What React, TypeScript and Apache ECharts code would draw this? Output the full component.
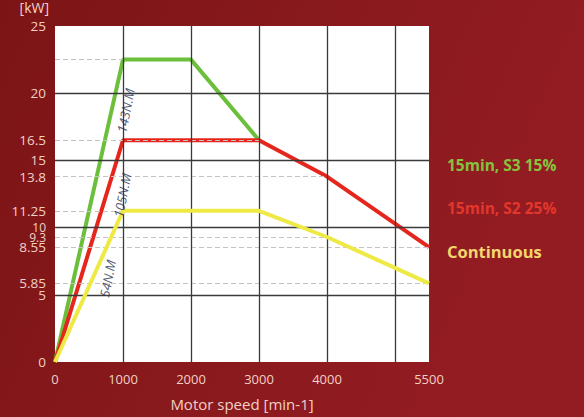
import React, { useEffect, useRef } from "react";
import * as echarts from "echarts";

const xTicks = [0, 1000, 2000, 3000, 4000, 5500];
const yTicks = [0, 5, 5.85, 8.55, 9.3, 10, 11.25, 13.8, 15, 16.5, 20, 25];
const majorX = [1000, 2000, 3000, 4000, 5000];
const majorY = [5, 10, 15, 20];
// [power, speed up to which the reference line runs]
const refLines = [
  [22.5, 1000],
  [16.5, 3000],
  [13.8, 4000],
  [11.25, 3000],
  [9.3, 4000],
  [8.55, 5500],
  [5.85, 5500],
];

const s3Speed = [0, 1000, 2000, 3000];
const s3Power = [0, 22.5, 22.5, 16.5];
const s2Speed = [0, 1000, 3000, 4000, 5500];
const s2Power = [0, 16.5, 16.5, 13.8, 8.55];
const contSpeed = [0, 1000, 3000, 4000, 5500];
const contPower = [0, 11.25, 11.25, 9.3, 5.85];

const seriesNames = ["15min, S3 15%", "15min, S2 25%", "Continuous"];
const torqueLabels = ["143N.M", "105N.M", "54N.M"];
const torqueAt = [
  [1040, 18.7],
  [990, 12.4],
  [775, 6.2],
];

const XMAX = 5500;
const YMAX = 25;

export default function App() {
  const ref = useRef<HTMLDivElement>(null);
  useEffect(() => {
    if (!ref.current) return;
    const chart = echarts.init(ref.current, undefined, { renderer: "svg" });
    const font = "Open Sans";
    const labelColor = "#f2d0c6";
    const zip = (xs: number[], ys: number[]) => xs.map((x, i) => [x, ys[i]]);

    const gridLines: any[] = [];
    majorX.forEach((x) =>
      gridLines.push([
        { coord: [x, 0], lineStyle: { color: "#3a3a3a", width: 1.3, type: "solid" } },
        { coord: [x, YMAX] },
      ])
    );
    majorY.forEach((y) =>
      gridLines.push([
        { coord: [0, y], lineStyle: { color: "#3a3a3a", width: 1.3, type: "solid" } },
        { coord: [XMAX, y] },
      ])
    );
    const refMarks = refLines.map(([y, x]) => [
      { coord: [0, y], lineStyle: { color: "#c4c4c4", width: 1, type: [5, 3] } },
      { coord: [x, y] },
    ]);

    chart.setOption({
      animation: false,
      backgroundColor: {
        type: "linear",
        x: 0,
        y: 0,
        x2: 1,
        y2: 0.3,
        colorStops: [
          { offset: 0, color: "#7c1416" },
          { offset: 0.5, color: "#88191c" },
          { offset: 1, color: "#931c22" },
        ],
      },
      textStyle: { fontFamily: font },
      grid: {
        left: 55,
        right: 155,
        top: 24,
        bottom: 55,
        show: true,
        backgroundColor: "#ffffff",
        borderWidth: 0,
      },
      legend: {
        orient: "vertical",
        left: 437,
        top: 152,
        icon: "none",
        itemWidth: 0,
        itemHeight: 16,
        itemGap: 27,
        selectedMode: false,
        data: [
          { name: seriesNames[0], textStyle: { color: "#86c23e", fontSize: 15.5, fontWeight: "bold" } },
          { name: seriesNames[1], textStyle: { color: "#e3362c", fontSize: 15.5, fontWeight: "bold" } },
          { name: seriesNames[2], textStyle: { color: "#f4d66e", fontSize: 16.5, fontWeight: "bold" } },
        ],
        textStyle: { fontFamily: font },
      },
      xAxis: {
        type: "value",
        min: 0,
        max: XMAX,
        name: "Motor speed [min-1]",
        nameLocation: "middle",
        nameGap: 34,
        nameTextStyle: { color: labelColor, fontSize: 15, fontFamily: font },
        axisLine: { show: false },
        axisTick: { show: false },
        splitLine: { show: false },
        axisLabel: {
          customValues: xTicks,
          formatter: (v: number) => String(v),
          color: labelColor,
          fontSize: 13,
          margin: 10,
          fontFamily: font,
        },
      },
      yAxis: {
        type: "value",
        min: 0,
        max: YMAX,
        name: "[kW]",
        nameLocation: "end",
        nameGap: 12,
        nameTextStyle: {
          color: labelColor,
          fontSize: 14,
          align: "right",
          padding: [0, 6, 0, 0],
          fontFamily: font,
        },
        axisLine: { show: false },
        axisTick: { show: false },
        splitLine: { show: false },
        axisLabel: {
          customValues: yTicks,
          formatter: (v: number) =>
            v === 9.3 || v === 10 ? "{s|" + String(v) + "}" : String(v),
          rich: { s: { fontSize: 12, color: labelColor, fontFamily: font, lineHeight: 10 } },
          color: labelColor,
          fontSize: 13.5,
          margin: 9,
          fontFamily: font,
        },
      },
      series: [
        {
          name: "grid",
          type: "line",
          data: [[0, 0]],
          symbol: "none",
          lineStyle: { opacity: 0 },
          silent: true,
          z: 1,
          markLine: {
            silent: true,
            symbol: ["none", "none"],
            label: { show: false },
            animation: false,
            data: [...refMarks, ...gridLines],
          },
        },
        {
          name: seriesNames[0],
          type: "line",
          data: zip(s3Speed, s3Power),
          symbol: "none",
          lineStyle: { color: "#6bbf3a", width: 4 },
          itemStyle: { color: "#6bbf3a" },
          z: 3,
        },
        {
          name: seriesNames[1],
          type: "line",
          data: zip(s2Speed, s2Power),
          symbol: "none",
          lineStyle: { color: "#e5261d", width: 4 },
          itemStyle: { color: "#e5261d" },
          z: 4,
        },
        {
          name: seriesNames[2],
          type: "line",
          data: zip(contSpeed, contPower),
          symbol: "none",
          lineStyle: { color: "#eee944", width: 4 },
          itemStyle: { color: "#eee944" },
          z: 5,
        },
        {
          name: "torque",
          type: "scatter",
          symbolSize: 0,
          silent: true,
          z: 6,
          data: torqueAt.map((p, i) => ({ value: [p[0], p[1]], name: torqueLabels[i] })),
          label: {
            show: true,
            position: "inside",
            formatter: (p: any) => p.name,
            rotate: 79,
            color: "#26314f",
            fontSize: 13,
            fontStyle: "italic",
            fontFamily: font,
          },
        },
      ],
    });
    return () => chart.dispose();
  }, []);
  return (
    <div
      ref={ref}
      style={{ position: "fixed", left: 0, top: 0, width: 584, height: 417 }}
    />
  );
}
